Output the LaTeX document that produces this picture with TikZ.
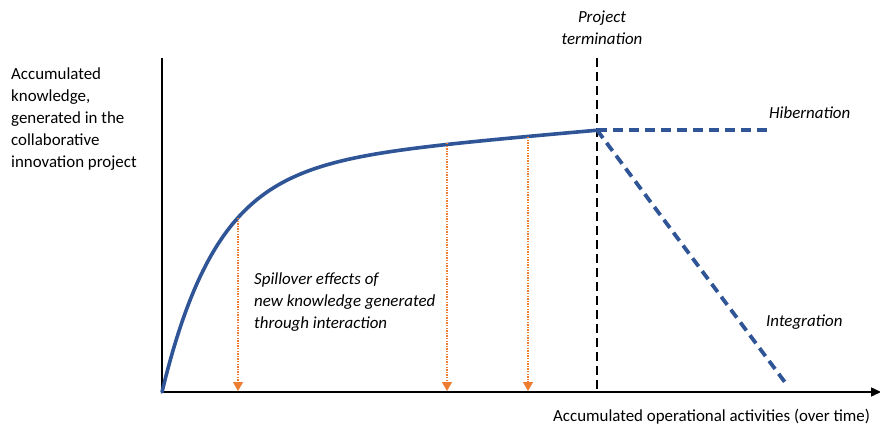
\documentclass[tikz,border=0pt]{standalone}
\usepackage{fontspec}
\setmainfont{Carlito}
\usetikzlibrary{arrows.meta}
\definecolor{curveblue}{RGB}{47,85,151}
\definecolor{spillorange}{RGB}{237,125,49}
\begin{document}
\begin{tikzpicture}[x=1pt,y=-1pt,
  txt/.style={inner sep=0pt,font=\fontsize{16.9}{22}\selectfont,align=left},
  itxt/.style={txt,font=\fontsize{16.9}{22}\selectfont\itshape},
  axis/.style={line width=1.4pt,black},
  curve/.style={line width=3.6pt,curveblue,line cap=round},
  future/.style={line width=3.8pt,curveblue,dash pattern=on 10pt off 6pt},
  spill/.style={line width=1.3pt,spillorange,dash pattern=on 1.3pt off 1.3pt,-{Triangle[length=9pt,width=10pt]}},
  termline/.style={line width=1.4pt,black,dash pattern=on 9pt off 5pt}]
\useasboundingbox (0,0) rectangle (880,428);

% axes
\coordinate (O) at (162,392);
\coordinate (ytop) at (162,58);
\coordinate (xend) at (881,392);
\draw[axis] (ytop) -- (O);
\draw[axis,-{Triangle[length=10pt,width=9pt]}] (O) -- (xend);

% project termination marker
\coordinate (ttop) at (597,58);
\coordinate (tbot) at (597,392);
\draw[termline] (ttop) -- (tbot);

% knowledge accumulation curve
\draw[curve] plot[domain=0:435,samples=150]
  ({162+\x},{392-(224*(1-exp(-\x/55))+0.087*\x)});
\coordinate (P) at (597,130);

% spillover points on the curve
\coordinate (s1) at (238,218);
\coordinate (s2) at (447,143);
\coordinate (s3) at (528,137);
\coordinate (b1) at (238,391);
\coordinate (b2) at (447,391);
\coordinate (b3) at (528,391);
\draw[spill] (s1) -- (b1);
\draw[spill] (s2) -- (b2);
\draw[spill] (s3) -- (b3);

% after-project scenarios
\coordinate (hib) at (768,130);
\coordinate (intg) at (787,385);
\draw[future] (P) -- (hib);
\draw[future] (P) -- (intg);

% labels (multi-line nodes are placed by the baseline of their last line)
\node[txt,anchor=base west] (ylab) at (11,167)
  {Accumulated\\knowledge,\\generated in the\\collaborative\\innovation project};
\node[txt,anchor=base west] (xlab) at (553,421)
  {Accumulated operational activities (over time)};
\node[itxt,align=center,anchor=base] (term) at (602,45)
  {Project\\termination};
\node[itxt,anchor=base west] (hiblab) at (769,118) {Hibernation};
\node[itxt,anchor=base west] (intlab) at (766,326) {Integration};
\node[itxt,anchor=base west] (spilllab) at (254,328)
  {Spillover effects of\\new knowledge generated\\through interaction};
\end{tikzpicture}
\end{document}
